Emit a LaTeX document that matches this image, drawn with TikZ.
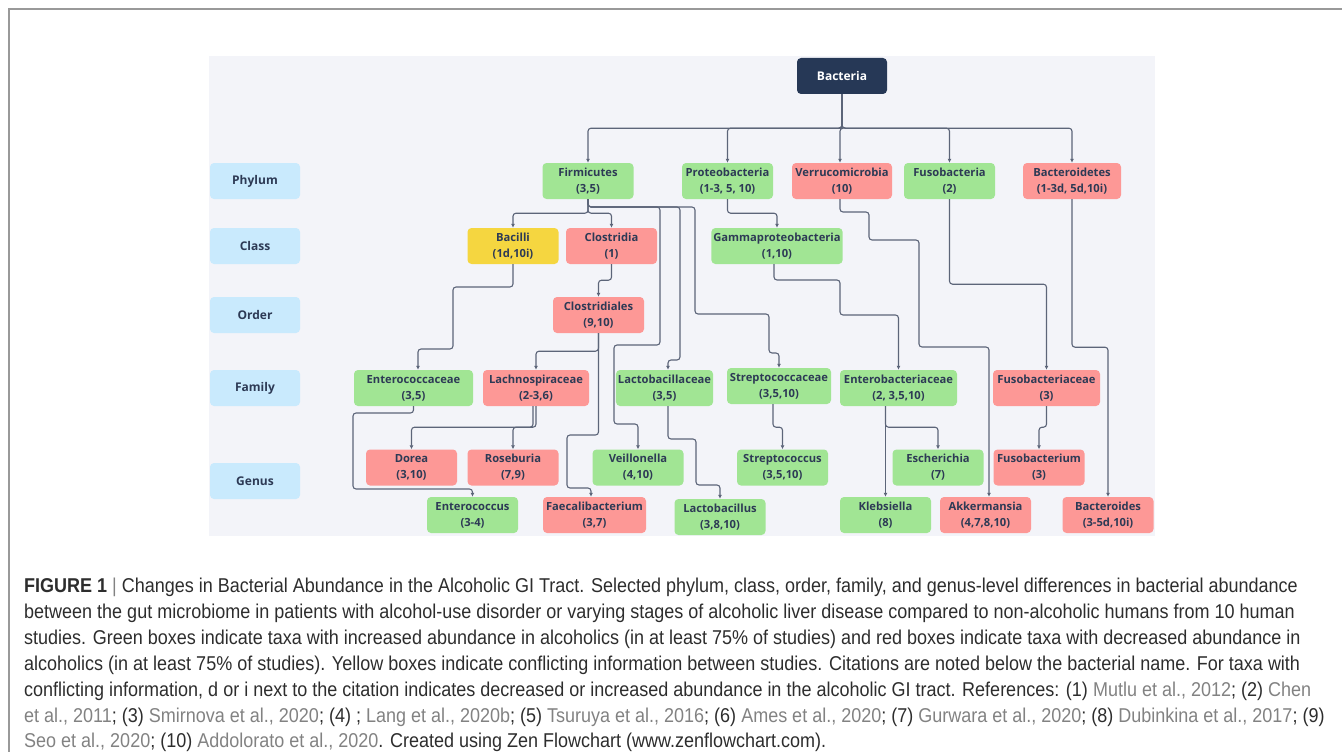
\documentclass[tikz,border=0pt]{standalone}
\usepackage{fontspec}
\setmainfont{Open Sans}
\newfontfamily\capfont[FakeStretch=0.90]{Liberation Sans}
\usetikzlibrary{arrows.meta}
\definecolor{zfgreen}{RGB}{161,229,148}
\definecolor{zfred}{RGB}{253,152,150}
\definecolor{zfyellow}{RGB}{245,214,64}
\definecolor{zfblue}{RGB}{201,234,253}
\definecolor{zfnavy}{RGB}{38,56,86}
\definecolor{zfink}{RGB}{45,58,85}
\definecolor{zfline}{RGB}{92,101,121}
\definecolor{zfpanel}{RGB}{243,244,249}
\definecolor{captext}{RGB}{45,45,45}
\definecolor{refgray}{RGB}{130,130,130}
\newcommand\lit[1]{{\color{refgray}#1}}
\tikzset{
  taxon/.style={rounded corners=4pt, minimum width=91pt, minimum height=36pt,
    inner sep=2pt, align=center, text=zfink,
    font=\bfseries\fontsize{11.2}{16}\selectfont},
  incbox/.style={taxon, fill=zfgreen},
  decbox/.style={taxon, fill=zfred},
  mixbox/.style={taxon, fill=zfyellow},
  rankbox/.style={taxon, minimum width=90pt, fill=zfblue,
    font=\bfseries\fontsize{12}{14}\selectfont},
  rootbox/.style={taxon, minimum width=90pt, fill=zfnavy, text=white,
    font=\bfseries\fontsize{12}{14}\selectfont},
  link/.style={draw=zfline, line width=1.1pt, rounded corners=3pt,
    -{Latex[length=4pt,width=4pt]}},
  capline/.style={anchor=base west, inner sep=0pt, text=captext,
    font=\capfont\fontsize{20}{26}\selectfont},
}

\begin{document}
\begin{tikzpicture}[x=1pt,y=-1pt]
\useasboundingbox (0,0) rectangle (1342,752);
\draw[gray!80, line width=1.2pt] (9,752) -- (9,9) -- (1342,9);
\fill[zfpanel] (209,56) rectangle (1155,536);

\node[rankbox] (rphy) at (255,181) {Phylum};
\node[rankbox] (rcla) at (255,246) {Class};
\node[rankbox] (rord) at (255,315) {Order};
\node[rankbox] (rfam) at (255,388) {Family};
\node[rankbox] (rgen) at (255,481) {Genus};

\node[rootbox] (bact) at (842,76) {Bacteria};

\node[incbox] (firm) at (588,181) {Firmicutes\\(3,5)};
\node[incbox] (prot) at (727.5,181) {Proteobacteria\\(1-3, 5, 10)};
\node[decbox, minimum width=100pt] (verr) at (842,181) {Verrucomicrobia\\(10)};
\node[incbox] (fuso) at (949.5,181) {Fusobacteria\\(2)};
\node[decbox, minimum width=98pt] (bctd) at (1072,181) {Bacteroidetes\\(1-3d, 5d,10i)};

\node[mixbox] (bacil) at (513,246) {Bacilli\\(1d,10i)};
\node[decbox] (clos) at (611.5,246) {Clostridia\\(1)};
\node[incbox, minimum width=126pt] (gam) at (777,246) {Gammaproteobacteria\\(1,10)};

\node[decbox] (clod) at (598.5,315) {Clostridiales\\(9,10)};

\node[incbox, minimum width=119pt] (entf) at (413.5,388) {Enterococcaceae\\(3,5)};
\node[decbox, minimum width=106pt] (lach) at (536,388) {Lachnospiraceae\\(2-3,6)};
\node[incbox, minimum width=97pt] (lacf) at (664.5,388) {Lactobacillaceae\\(3,5)};
\node[incbox, minimum width=104pt] (stcf) at (779,386) {Streptococcaceae\\(3,5,10)};
\node[incbox, minimum width=117pt] (ebf) at (898.5,388) {Enterobacteriaceae\\(2, 3,5,10)};
\node[decbox, minimum width=107pt] (fusf) at (1046.5,388) {Fusobacteriaceae\\(3)};

\node[decbox] (dor) at (411.5,467.5) {Dorea\\(3,10)};
\node[decbox] (ros) at (513,467.5) {Roseburia\\(7,9)};
\node[incbox] (veil) at (638,467.5) {Veillonella\\(4,10)};
\node[incbox] (stc) at (782.5,467.5) {Streptococcus\\(3,5,10)};
\node[incbox] (esch) at (938,467.5) {Escherichia\\(7)};
\node[decbox] (fusb) at (1039,467.5) {Fusobacterium\\(3)};

\node[incbox] (ent) at (472.5,515) {Enterococcus\\(3-4)};
\node[decbox, minimum width=103pt] (faec) at (594.5,515) {Faecalibacterium\\(3,7)};
\node[incbox] (lacb) at (720,517) {Lactobacillus\\(3,8,10)};
\node[incbox] (kleb) at (885.5,515) {Klebsiella\\(8)};
\node[decbox] (akk) at (985.5,515) {Akkermansia\\(4,7,8,10)};
\node[decbox] (bctr) at (1108,515) {Bacteroides\\(3-5d,10i)};

\draw[link] (bact.south) -- ++(0,34) -| (firm.north);
\draw[link] (bact.south) -- ++(0,34) -| (prot.north);
\draw[link] (bact.south) -- ++(0,34) -| ([xshift=-2pt]verr.north);
\draw[link] (bact.south) -- ++(0,34) -| (fuso.north);
\draw[link] (bact.south) -- ++(0,34) -| (bctd.north);

\draw[link] (firm.south) -- ++(0,14) -| (bacil.north);
\draw[link] (firm.south) -- ++(0,14) -| (clos.north);
\draw[link] (firm.south) |- (660,207) |- (614,345) |- (638,424) -- (veil.north);
\draw[link] (firm.south) |- (680,207) |- (668,360) -- ([xshift=3.5pt]lacf.north);
\draw[link] (firm.south) |- (695,207) |- (769,314) |- (779,353) -- (stcf.north);

\draw[link] (prot.south) -- ++(0,14) -| (gam.north);
\draw[link] ([xshift=-3pt]gam.south) |- (840,280) |- (898.5,315) -- (ebf.north);
\draw[link] ([xshift=-2pt]verr.south) |- (869,212) |- (919,240) |- (989,347) -- ([xshift=3.5pt]akk.north);
\draw[link] (fuso.south) -- ++(0,85) -| (fusf.north);
\draw[link] (bctd.south) -- ++(0,148) -| (bctr.north);

\draw[link] (bacil.south) |- (453,287) |- (418,349) -- ([xshift=4.5pt]entf.north);
\draw[link] (clos.south) -- ++(0,16) -| (clod.north);
\draw[link] (clod.south) -- ++(0,18) -| (lach.north);
\draw[link] (clod.south) |- (567,435) |- (591,488) -- ([xshift=-3.5pt]faec.north);

\draw[link] (entf.south) |- (353,413) |- (472.5,489) -- (ent.north);
\draw[link] (lach.south) -- ++(0,21) -| (dor.north);
\draw[link] ([xshift=-3pt]lach.south) -- ++(0,21) -| (ros.north);
\draw[link] ([xshift=3.5pt]lacf.south) |- (696,439) |- (720,485) -- (lacb.north);
\draw[link] ([xshift=-6pt]stcf.south) -- ++(0,23) -| (stc.north);
\draw[link] (kleb.north |- ebf.south) -- (kleb.north);
\draw[link] (kleb.north |- ebf.south) -- ++(0,21) -| (esch.north);
\draw[link] (fusf.south) -- ++(0,21) -| (fusb.north);

\node[capline] (cap1) at (24,592) {\textbf{FIGURE 1} {\color{refgray}|} Changes in Bacterial Abundance in the Alcoholic GI Tract. Selected phylum, class, order, family, and genus-level differences in bacterial abundance};
\node[capline] (cap2) at (24,618) {between the gut microbiome in patients with alcohol-use disorder or varying stages of alcoholic liver disease compared to non-alcoholic humans from 10 human};
\node[capline] (cap3) at (24,644) {studies. Green boxes indicate taxa with increased abundance in alcoholics (in at least 75\% of studies) and red boxes indicate taxa with decreased abundance in};
\node[capline] (cap4) at (24,670) {alcoholics (in at least 75\% of studies). Yellow boxes indicate conflicting information between studies. Citations are noted below the bacterial name. For taxa with};
\node[capline] (cap5) at (24,696) {conflicting information, d or i next to the citation indicates decreased or increased abundance in the alcoholic GI tract. References: (1) \lit{Mutlu et al., 2012}; (2) \lit{Chen}};
\node[capline] (cap6) at (24,722) {\lit{et al., 2011}; (3) \lit{Smirnova et al., 2020}; (4) ; \lit{Lang et al., 2020b}; (5) \lit{Tsuruya et al., 2016}; (6) \lit{Ames et al., 2020}; (7) \lit{Gurwara et al., 2020}; (8) \lit{Dubinkina et al., 2017}; (9)};
\node[capline] (cap7) at (24,747) {\lit{Seo et al., 2020}; (10) \lit{Addolorato et al., 2020}. Created using Zen Flowchart (www.zenflowchart.com).};
\end{tikzpicture}
\end{document}
